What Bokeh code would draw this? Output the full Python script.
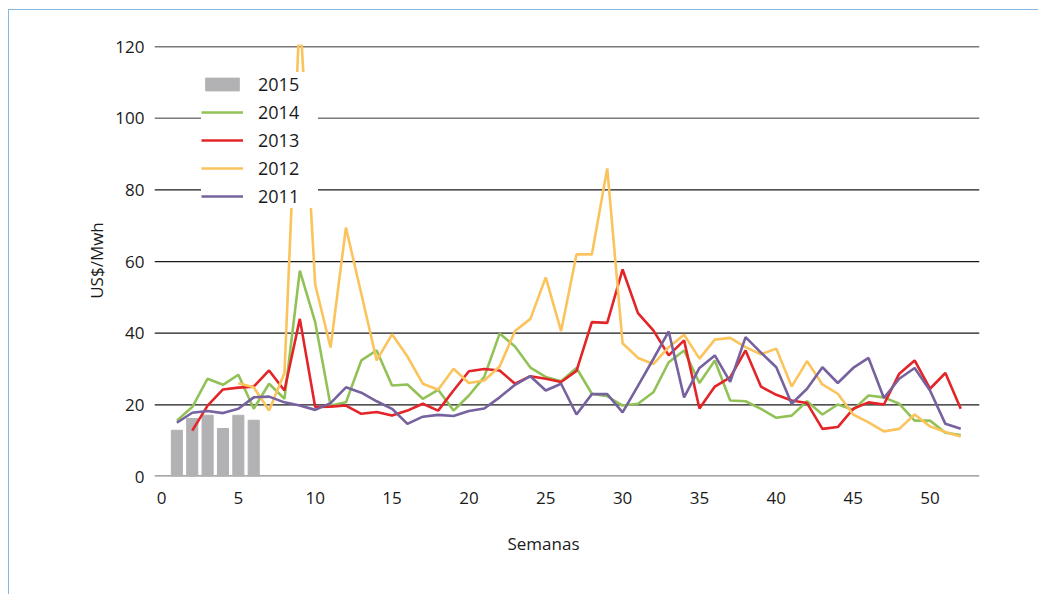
import math
from bokeh.plotting import figure
from bokeh.models import Span, Legend, LegendItem, FixedTicker, Range1d, Title
from bokeh.embed import file_html
from bokeh.resources import INLINE

nan = float("nan")
weeks = list(range(1, 53))
weeks_2015 = [1, 2, 3, 4, 5, 6]
v2015 = [12.9, 16.2, 17.1, 13.4, 17.1, 15.7]
v2014 = [15.6, 19.4, 27.3, 25.6, 28.4, 18.9, 25.9, 21.7, 57.5, 43.1, 19.8, 20.7, 32.4, 35.2, 25.4, 25.7,
         21.7, 24.2, 18.4, 22.6, 27.8, 39.9, 36.3, 30.4, 27.8, 26.6, 30.3, 23.1, 22.4, 19.8, 20.3, 23.5,
         31.9, 35.2, 26.1, 32.4, 21.2, 21.0, 18.9, 16.4, 17.0, 21.0, 17.3, 20.1, 18.6, 22.6, 22.1, 20.3,
         15.6, 15.6, 12.2, 11.6]
v2013 = [nan, 12.8, 19.8, 24.3, 24.8, 25.1, 29.6, 24.0, 44.0, 19.4, 19.5, 19.8, 17.5, 18.0, 17.0, 18.4,
         20.3, 18.4, 24.0, 29.4, 30.0, 29.6, 25.9, 28.0, 27.3, 26.4, 29.5, 43.1, 42.9, 57.8, 45.6, 40.8,
         33.8, 38.0, 19.0, 25.1, 27.7, 35.2, 25.1, 22.8, 21.2, 20.5, 13.3, 13.8, 18.9, 20.7, 20.1, 28.7,
         32.4, 24.5, 28.9, 18.9]
v2012 = [nan, nan, nan, nan, 26.0, 24.9, 18.4, 28.9, 130.0, 53.6, 36.0, 69.5, 51.0, 32.4, 39.7, 33.5,
         25.9, 24.2, 30.1, 26.1, 26.8, 30.7, 40.6, 44.0, 55.6, 40.6, 62.0, 62.0, 86.0, 37.2, 33.1, 31.4,
         36.1, 39.6, 32.9, 38.2, 38.7, 36.1, 34.1, 35.7, 25.1, 32.2, 25.7, 23.1, 17.3, 15.1, 12.6, 13.3,
         17.3, 14.0, 12.4, 11.2]
v2011 = [15.0, 17.8, 18.3, 17.7, 18.9, 22.1, 22.3, 20.7, 19.8, 18.6, 20.5, 24.9, 23.4, 21.0, 18.9, 14.7,
         16.7, 17.2, 16.9, 18.3, 19.0, 22.1, 25.6, 28.0, 24.0, 25.9, 17.3, 23.0, 23.0, 17.9, 25.3, 32.8,
         40.5, 22.1, 30.3, 33.8, 26.4, 38.9, 34.6, 30.5, 20.3, 24.5, 30.5, 26.1, 30.3, 33.1, 21.9, 27.3,
         30.3, 24.0, 14.7, 13.3]
y_ticks = [0, 20, 40, 60, 80, 100, 120]
x_ticks = [0, 5, 10, 15, 20, 25, 30, 35, 40, 45, 50]

FONT = "Open Sans"

p = figure(width=1030, height=585, output_backend="svg", toolbar_location=None,
           x_range=Range1d(-0.455, 53.22), y_range=Range1d(0, 120.6),
           min_border_left=145, min_border_right=60, min_border_top=34, min_border_bottom=119)
p.margin = (9, 0, 0, 8)
p.styles = {"border-top": "1px solid #86b6df", "border-left": "1px solid #86b6df"}
p.outline_line_color = None
p.xgrid.visible = False
p.ygrid.visible = False
p.background_fill_color = "white"
p.border_fill_color = "white"

for t in y_ticks:
    if t == 0:
        col, w = "#8a8a8a", 2.5
    elif t >= 100:
        col, w = "#7a7a7a", 1.5
    else:
        col, w = "#1a1a1a", 1.3
    p.add_layout(Span(location=t, dimension="width", line_color=col, line_width=w, level="underlay"))

bars = p.vbar(x=weeks_2015, top=v2015, width=0.72, color="#b2b2b4")
l2014 = p.line(weeks, v2014, line_color="#92c257", line_width=2.6)
l2013 = p.line(weeks, v2013, line_color="#e32428", line_width=2.6)
l2012 = p.line(weeks, v2012, line_color="#fbc35c", line_width=2.6)
l2011 = p.line(weeks, v2011, line_color="#76629e", line_width=2.6)

for ax in (p.xaxis[0], p.yaxis[0]):
    ax.axis_line_color = None
    ax.major_tick_line_color = None
    ax.minor_tick_line_color = None
    ax.major_label_text_font = FONT
    ax.major_label_text_font_size = "17px"
    ax.major_label_text_color = "#1a1a1a"
    ax.axis_label_text_font = FONT
    ax.axis_label_text_font_size = "17px"
    ax.axis_label_text_font_style = "normal"
    ax.axis_label_text_color = "#1a1a1a"

p.xaxis.ticker = FixedTicker(ticks=x_ticks)
p.yaxis.ticker = FixedTicker(ticks=y_ticks)
p.xaxis.major_label_standoff = 9
p.yaxis.major_label_standoff = 4
p.yaxis.axis_label = "US$/Mwh"
p.yaxis.axis_label_standoff = 4

xtitle = Title(text="Semanas", align="left", offset=353, standoff=47,
               text_font=FONT, text_font_size="17px", text_font_style="normal", text_color="#1a1a1a")
p.add_layout(xtitle, "below")

legend = Legend(items=[
    LegendItem(label="2015", renderers=[bars]),
    LegendItem(label="2014", renderers=[l2014]),
    LegendItem(label="2013", renderers=[l2013]),
    LegendItem(label="2012", renderers=[l2012]),
    LegendItem(label="2011", renderers=[l2011]),
], location=(47, 268))
legend.border_line_color = None
legend.background_fill_color = "white"
legend.background_fill_alpha = 1.0
legend.padding = 13
legend.spacing = 4
legend.label_height = 21
legend.glyph_height = 16
legend.glyph_width = 42
legend.label_standoff = 15
legend.label_width = 60
legend.label_text_font = FONT
legend.label_text_font_size = "18px"
legend.label_text_color = "#1a1a1a"
legend.margin = 0
p.add_layout(legend)

open("out.html", "w").write(file_html(p, INLINE))
